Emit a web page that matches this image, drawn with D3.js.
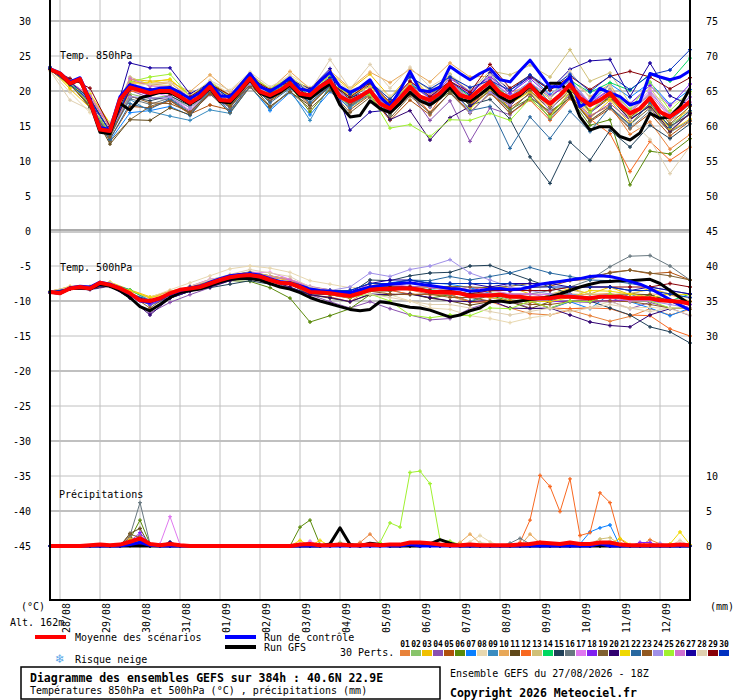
<!DOCTYPE html>
<html>
<head>
<meta charset="utf-8">
<script src="https://cdn.jsdelivr.net/npm/d3@7"></script>
<style>
  body { margin: 0; background: #fff; }
  svg { display: block; font-family: "DejaVu Sans Mono", monospace; }
</style>
</head>
<body>
<svg id="chart" width="740" height="700"></svg>
<script>
// time axis: GEFS run 27/08 18Z, 6h steps for mean/control/GFS, 12h for the members' temperatures
const steps6 = d3.range(0, 385, 6);
const steps12 = d3.range(0, 385, 12);
const dayLabels = ["28/08", "29/08", "30/08", "31/08", "01/09", "02/09", "03/09", "04/09",
  "05/09", "06/09", "07/09", "08/09", "09/09", "10/09", "11/09", "12/09"];
const leftTicks = [30, 25, 20, 15, 10, 5, 0, -5, -10, -15, -20, -25, -30, -35, -40, -45];
const rightTicks = [30, 25, 20, 15, 10, 5, 0, -5, -10, -15, -35, -40, -45];
const precipOffset = -45; // mm are drawn on the same scale, 0 mm at -45

const memberColors = ["#e8823a", "#88c46a", "#f0c000", "#8a50b0", "#b0500c", "#5a8a0a", "#0a80ff", "#e8d8b0",
  "#3a8cc0", "#e8a858", "#604818", "#f86820", "#d0c078", "#00d860", "#204058", "#687880", "#e078f0",
  "#8020f0", "#806030", "#300070", "#f0d800", "#2868a0", "#905820", "#a090e8", "#a0f030", "#d070d0",
  "#1800a0", "#e0d0b0", "#880008", "#0030c0"];

// ---- 850 hPa (°C) ----
const mean850 = [23.1,22.5,21.1,21.7,18.5,14.5,14.3,18.8,20.5,20.1,19.7,20.0,20.0,19.2,18.3,19.2,20.6,18.7,18.6,20.1,21.8,19.9,19.4,20.1,21.1,19.6,19.4,20.6,21.5,19.2,18.5,19.2,20.1,18.2,17.5,19.0,20.6,19.2,18.7,19.7,21.1,19.4,19.0,20.2,21.3,19.7,19.0,19.7,20.9,19.2,18.2,19.4,20.9,19.0,18.0,18.7,19.7,18.0,16.8,17.5,19.0,17.0,16.3,17.3,18.5];
const ctrl850 = [23.2,22.6,21.3,21.9,18.8,14.8,14.5,19.2,20.9,20.5,20.1,20.4,20.5,19.8,18.9,19.8,21.2,19.3,19.2,20.8,22.5,20.6,20.0,20.8,21.9,20.3,20.0,21.4,22.7,20.6,19.8,20.5,21.6,19.2,17.8,20.1,22.8,20.1,19.9,20.6,23.5,22.5,21.6,22.5,23.2,21.6,21.3,22.9,24.4,22.5,20.6,20.6,22.0,17.8,18.5,20.4,19.7,19.2,18.0,18.5,22.5,22.0,21.6,22.0,22.9];
const gfs850 = [23.1,22.4,21.0,21.6,18.3,14.1,13.9,18.2,17.3,19.0,19.4,19.8,19.8,19.0,18.1,19.0,20.4,18.5,18.3,19.9,21.6,19.7,19.1,19.8,20.9,19.3,18.9,20.0,21.0,18.0,16.3,16.5,18.6,17.5,16.9,18.2,19.8,18.6,18.0,19.0,20.5,18.8,18.5,19.5,20.6,19.2,18.4,19.4,20.8,19.5,21.1,21.1,19.8,16.3,14.4,14.9,14.9,13.5,13.0,14.0,16.8,16.1,16.3,17.8,20.4];
const members850 = [
  [23.2,21.0,19.2,14.6, 21.5,20.8,21.2,19.0, 21.3,19.4,22.4,20.3, 21.9,20.1,22.3,19.2, 21.0,18.3,21.4,19.5, 22.0,19.8,21.8,18.6, 20.7,17.6,19.8,16.5, 17.9,13.8,15.6,11.7,13.8],
  [23.0,20.8,18.0,13.9, 19.6,18.9,19.4,17.6, 19.8,17.9,21.0,18.6, 20.5,18.8,21.0,17.6, 19.5,16.8,20.1,17.9, 20.6,18.4,20.9,18.8, 21.2,18.1,21.3,18.2, 20.3,17.3,19.4,15.2,17.1],
  [23.3,20.3,17.6,15.2, 21.7,21.4,21.6,19.4, 21.0,19.2,22.1,20.0, 21.6,20.4,22.6,20.2, 22.4,19.1,22.3,19.3, 22.4,19.4,21.4,17.2, 19.8,16.8,19.1,16.1, 18.7,15.3,18.2,14.2,16.0],
  [23.1,21.2,18.3,14.0, 20.1,19.0,18.8,16.8, 19.5,17.6,21.2,18.9, 20.8,19.2,21.3,17.8, 19.6,16.9,19.8,15.8, 18.6,12.8,17.6,16.6, 19.2,16.9,19.4,16.3, 18.2,15.8,18.1,14.8,16.8],
  [23.0,21.1,17.9,13.2, 17.8,17.6,18.6,16.7, 18.0,17.3,20.7,18.5, 20.6,18.0,20.7,17.3, 19.4,15.8,18.7,16.6, 19.8,17.0,19.6,17.6, 19.6,16.6,19.7,15.6, 17.5,14.6,16.8,13.6,15.7],
  [23.1,20.9,18.2,14.3, 20.3,20.2,20.5,18.1, 21.1,18.2,21.7,18.9, 20.7,17.0,20.4,17.9, 19.9,16.6,19.7,17.8, 19.9,18.2,20.3,17.3, 19.0,17.1,19.0,15.1, 15.9,6.6,11.4,11.0,13.2],
  [23.4,21.3,17.6,12.9, 16.9,17.2,17.8,16.5, 19.8,16.9,20.7,17.2, 19.8,16.6,19.9,17.6, 20.1,17.2,21.0,19.1, 22.3,19.4,22.4,19.6, 22.2,19.5,21.6,18.3, 21.0,19.1,21.2,18.1,20.2],
  [22.9,19.8,16.9,15.4, 20.2,20.4,19.9,19.3, 21.4,19.6,22.3,20.4, 22.3,20.5,22.0,20.1, 21.2,19.3,21.1,18.8, 20.8,19.2,20.6,18.1, 19.9,17.3,20.7,18.4, 20.1,17.0,19.7,17.9,19.6],
  [23.2,21.0,17.8,13.7, 18.8,17.1,16.4,15.8, 17.3,16.8,20.6,17.4, 20.2,15.8,20.9,18.1, 20.3,17.4,21.2,19.0, 21.4,18.7,21.6,19.3, 21.3,18.4,21.0,16.9, 19.2,15.9,18.8,15.8,18.1],
  [23.3,21.2,19.4,15.1, 21.2,21.1,21.3,19.9, 22.3,19.9,22.4,20.2, 22.8,20.3,22.9,20.4, 22.7,21.2,23.1,21.3, 24.0,22.0,22.1,19.8, 20.8,18.9,21.8,19.2, 21.0,16.2,19.1,15.8,17.2],
  [23.1,21.0,17.7,12.4, 15.9,15.8,17.6,16.6, 19.7,17.7,21.1,17.8, 19.9,17.9,20.8,18.4, 20.2,17.1,20.0,17.7, 20.6,17.9,20.7,18.2, 20.4,18.0,21.2,17.1, 19.1,16.0,17.8,15.0,16.6],
  [23.2,21.4,19.0,14.1, 20.0,19.6,20.2,18.6, 20.7,18.4,21.6,19.2, 21.2,19.0,21.1,18.0, 19.8,17.1,20.2,16.9, 20.9,18.1,20.0,16.8, 18.7,15.8,18.9,16.0, 13.9,8.5,12.8,10.1,12.0],
  [23.0,21.3,19.2,15.3, 22.0,20.9,20.8,18.9, 20.9,19.1,22.1,19.8, 21.9,19.9,22.0,19.3, 21.1,18.9,22.1,20.1, 22.2,19.9,22.9,22.3, 23.7,22.0,25.9,21.4, 22.6,18.2,20.4,16.8,19.1],
  [23.1,21.1,18.9,14.2, 20.8,20.1,19.7,18.2, 20.6,18.8,21.8,19.6, 21.4,19.3,21.8,19.0, 20.8,18.2,20.9,19.4, 21.3,19.2,21.1,19.1, 21.2,19.1,21.5,19.8, 21.2,20.1,22.4,21.4,24.7],
  [23.2,20.9,18.1,14.0, 19.2,18.6,19.3,17.9, 20.2,18.0,21.3,18.8, 20.7,19.1,21.2,18.8, 20.9,17.9,20.4,18.4, 20.2,18.0,18.8,16.0, 10.6,6.8,12.7,10.1, 14.4,12.0,15.1,13.2,15.3],
  [23.0,21.1,18.3,13.8, 18.9,18.1,19.0,17.1, 19.9,17.6,21.0,18.7, 20.8,18.2,21.1,17.8, 19.6,16.6,19.6,16.8, 19.7,17.6,20.2,17.1, 19.8,16.0,19.2,15.7, 17.8,14.7,17.2,14.1,15.8],
  [23.1,21.2,19.3,15.0, 21.3,19.9,19.2,17.2, 20.3,18.3,21.4,19.3, 21.1,19.7,21.8,19.2, 20.7,18.1,21.3,19.4, 21.1,19.7,21.9,19.3, 21.2,19.2,21.4,18.4, 20.3,17.2,20.1,16.4,19.1],
  [23.0,21.0,18.1,14.4, 20.4,19.3,20.1,18.2, 20.1,18.3,21.3,19.1, 21.0,19.2,21.2,18.3, 20.0,17.8,20.9,19.0, 21.8,19.9,22.1,19.7, 21.8,19.3,21.0,18.2, 20.2,18.2,20.8,17.9,21.0],
  [23.2,21.0,17.7,12.8, 15.9,17.8,18.7,16.8, 19.6,16.9,20.6,17.7, 19.9,17.5,20.1,16.9, 19.1,16.1,19.3,16.9, 19.7,16.8,19.8,16.8, 18.9,16.3,19.1,15.8, 17.8,15.2,17.6,14.1,16.9],
  [23.1,21.1,18.4,14.2, 20.2,20.3,19.9,18.4, 20.4,18.9,21.4,19.2, 21.2,19.1,21.4,19.0, 20.1,15.9,17.2,13.0, 16.2,17.8,20.0,17.9, 20.6,17.8,20.6,16.9, 19.0,15.9,17.9,14.3,16.8],
  [23.3,20.6,19.6,15.4, 21.1,21.2,21.7,19.2, 20.8,18.1,21.2,19.3, 20.9,19.8,21.2,19.4, 20.6,18.3,21.0,17.9, 20.3,17.4,20.2,18.2, 19.9,17.9,20.3,17.3, 18.9,16.3,18.1,14.6,17.9],
  [23.1,21.2,17.9,13.1, 18.2,17.4,18.9,16.9, 20.0,17.1,21.1,18.3, 20.4,18.4,20.7,18.1, 19.8,17.0,19.9,18.1, 20.7,17.2,17.8,11.8, 16.3,13.2,17.1,14.2, 17.7,15.1,18.3,14.8,17.2],
  [23.0,20.9,17.9,13.4, 19.3,18.3,18.2,17.0, 19.7,17.8,20.9,18.8, 20.6,19.1,21.0,18.2, 19.9,16.9,20.1,18.2, 20.8,18.8,21.2,18.3, 20.1,17.3,20.2,17.0, 19.3,16.2,18.7,15.3,17.8],
  [23.1,21.1,18.2,14.2, 19.2,19.0,19.1,17.6, 20.2,18.4,21.0,19.0, 21.2,18.9,21.1,18.4, 19.9,17.2,20.3,17.7, 20.7,16.9,19.8,18.0, 21.0,17.1,20.8,16.8, 19.6,16.9,19.8,16.7,19.2],
  [23.2,21.1,18.1,14.0, 21.3,22.0,22.4,19.2, 21.3,19.2,22.2,20.3, 22.0,20.2,22.1,18.9, 19.5,14.7,15.2,13.5, 15.9,15.8,16.8,15.8, 18.9,16.3,19.9,16.9, 20.2,17.4,21.3,17.2,19.9],
  [23.0,21.3,19.3,14.8, 21.8,20.7,20.6,18.1, 20.6,18.7,21.6,19.2, 20.9,19.0,20.8,18.7, 20.3,17.3,20.6,18.3, 21.2,18.9,21.2,18.3, 20.8,18.2,20.6,17.8, 20.0,16.9,19.6,16.2,18.4],
  [23.4,21.3,18.9,14.2, 24.0,23.3,23.3,19.6, 21.1,18.9,21.9,19.9, 21.6,20.3,23.2,14.4, 17.0,17.3,20.4,18.5, 21.4,19.4,22.6,20.1, 22.0,20.2,23.1,24.3, 24.5,19.2,24.0,19.3,18.0],
  [22.9,18.7,17.3,15.5, 20.7,21.0,21.2,19.3, 21.5,20.1,22.7,20.6, 22.1,20.0,24.5,20.3, 23.8,20.4,23.4,20.6, 22.3,20.3,22.3,20.4, 22.3,19.1,22.9,18.9, 20.7,15.9,13.1,8.2,12.1],
  [23.1,21.8,20.4,14.9, 20.9,19.8,19.6,19.2, 21.0,19.4,21.9,20.2, 21.3,19.0,21.2,19.1, 21.2,18.4,21.4,19.2, 21.4,19.8,23.8,20.4, 22.2,20.1,22.1,20.2, 22.1,22.8,22.0,20.3,21.9],
  [23.2,20.9,18.7,14.3, 20.6,19.5,20.4,18.8, 20.9,19.0,21.7,19.7, 21.7,19.8,21.9,19.5, 21.3,18.8,22.0,20.3, 22.0,20.5,21.5,20.1, 22.3,20.3,22.4,19.9, 22.2,20.2,22.3,23.0,25.9]
];

// ---- 500 hPa (°C) ----
const mean500 = [-8.7,-8.9,-8.2,-8.0,-8.2,-7.4,-7.7,-8.2,-8.9,-9.9,-10.0,-9.6,-8.9,-8.4,-8.2,-8.0,-7.5,-7.0,-6.6,-6.4,-6.3,-6.5,-7.0,-7.4,-7.5,-8.0,-8.7,-8.8,-8.9,-9.1,-9.3,-8.9,-8.4,-8.3,-8.3,-8.2,-8.2,-8.4,-8.7,-8.7,-8.8,-8.9,-9.3,-9.2,-9.2,-9.1,-9.4,-9.4,-9.6,-9.6,-9.6,-9.4,-9.4,-9.5,-9.6,-9.4,-9.4,-9.4,-9.6,-9.6,-9.6,-9.9,-10.0,-10.1,-10.4];
const ctrl500 = [-8.7,-8.9,-8.1,-7.9,-8.0,-7.3,-7.6,-8.2,-9.0,-10.0,-10.2,-9.7,-9.0,-8.5,-8.2,-7.9,-7.3,-6.8,-6.4,-6.2,-6.1,-6.3,-6.8,-7.2,-7.4,-7.8,-8.3,-8.5,-8.6,-8.8,-8.8,-8.4,-8.0,-7.8,-7.6,-7.5,-7.4,-7.6,-7.8,-8.0,-8.2,-8.3,-8.6,-8.5,-8.3,-8.2,-8.4,-8.3,-8.0,-7.6,-7.4,-7.2,-7.0,-6.8,-6.5,-6.4,-6.5,-6.8,-7.2,-7.6,-8.2,-9.0,-9.8,-10.6,-11.3];
const gfs500 = [-8.7,-8.9,-8.2,-8.1,-8.3,-7.6,-7.9,-8.5,-9.5,-10.8,-11.4,-10.5,-9.5,-8.8,-8.5,-8.3,-7.8,-7.3,-6.9,-6.8,-6.8,-7.0,-7.5,-8.0,-8.3,-8.8,-9.5,-10.0,-10.4,-10.8,-11.2,-11.4,-11.2,-10.1,-10.3,-10.6,-10.9,-11.0,-11.3,-11.8,-12.3,-12.0,-11.4,-11.0,-10.1,-10.0,-10.2,-10.0,-9.8,-9.6,-9.4,-9.0,-8.5,-8.0,-7.6,-7.3,-7.2,-7.1,-7.1,-7.0,-6.9,-7.5,-8.5,-9.5,-10.5];
const members500 = [
  [-8.6,-8.0,-8.1,-7.4, -9.2,-10.3,-9.1,-8.2, -7.4,-6.9,-6.4,-7.1, -8.1,-9.2,-9.4,-10.1, -8.3,-8.2,-8.4,-9.1, -9.3,-10.2,-10.1,-11.0, -11.8,-12.0,-11.3,-12.1, -12.9,-12.2,-11.1,-12.0,-11.2],
  [-8.8,-8.1,-8.0,-7.6, -9.0,-10.6,-9.2,-7.9, -7.1,-6.4,-5.8,-6.4, -7.0,-8.6,-9.1,-9.2, -8.0,-8.1,-7.9,-8.6, -8.4,-9.1,-9.0,-9.8, -10.1,-9.2,-9.1,-9.9, -10.2,-9.8,-9.1,-10.0,-11.1],
  [-8.7,-7.9,-7.9,-7.3, -8.4,-9.4,-8.6,-8.0, -7.6,-6.4,-5.9,-6.6, -7.1,-8.1,-8.6,-9.0, -7.4,-8.1,-7.9,-8.5, -9.1,-9.0,-8.1,-8.0, -9.0,-9.1,-8.2,-9.0, -8.0,-9.1,-8.2,-9.0,-10.1],
  [-8.6,-8.3,-8.4,-7.9, -9.6,-11.7,-10.2,-9.1, -8.1,-7.1,-6.6,-7.2, -8.2,-9.1,-10.1,-11.0, -10.1,-11.1,-12.0,-12.7, -12.5,-11.1,-10.2,-10.0, -11.0,-11.1,-10.1,-10.2, -10.0,-11.1,-10.2,-11.0,-12.1],
  [-8.9,-8.3,-8.1,-7.6, -9.1,-10.1,-9.0,-7.9, -7.3,-6.3,-5.9,-6.4, -6.9,-8.4,-8.6,-8.8, -7.9,-7.8,-8.1,-7.9, -8.0,-8.4,-7.9,-8.6, -8.1,-7.9,-7.1,-6.9, -5.9,-5.6,-6.1,-5.9,-7.0],
  [-8.7,-8.2,-8.3,-7.8, -9.1,-10.1,-9.1,-8.1, -7.6,-7.1,-7.2,-8.1, -9.6,-13.0,-12.1,-11.1, -9.1,-9.2,-8.9,-9.6, -9.1,-10.1,-9.2,-10.0, -10.1,-9.1,-9.0,-10.1, -9.0,-10.0,-9.1,-10.1,-11.0],
  [-8.7,-8.1,-8.0,-7.5, -8.4,-9.9,-9.0,-8.0, -7.5,-6.6,-6.1,-7.0, -7.6,-8.0,-8.4,-9.0, -8.1,-7.4,-7.0,-7.4, -7.6,-8.1,-8.9,-9.1, -10.0,-11.0,-10.1,-11.1, -9.0,-10.1,-11.0,-12.1,-11.0],
  [-8.6,-8.0,-8.0,-7.4, -8.6,-9.5,-8.4,-7.4, -6.4,-5.4,-5.0,-5.3, -5.9,-7.1,-7.6,-8.1, -8.0,-9.1,-10.0,-11.0, -11.2,-12.1,-12.5,-13.1, -12.4,-12.0,-11.1,-10.9, -10.1,-11.0,-10.9,-11.1,-12.0],
  [-8.8,-8.3,-8.2,-7.8, -9.1,-10.6,-9.6,-8.6, -7.6,-6.6,-6.4,-7.1, -7.6,-8.6,-9.1,-9.6, -8.6,-8.4,-9.1,-9.0, -9.1,-10.0,-9.1,-8.9, -10.1,-10.0,-9.1,-10.0, -10.1,-9.0,-10.1,-10.0,-11.1],
  [-8.7,-8.2,-8.1,-7.7, -8.6,-9.6,-8.6,-8.1, -7.4,-6.4,-6.4,-7.0, -7.4,-8.4,-8.9,-8.9, -7.9,-8.0,-7.9,-8.0, -8.6,-9.0,-8.9,-9.5, -9.9,-9.1,-9.0,-9.1, -8.9,-9.5,-9.0,-9.1,-10.0],
  [-8.7,-8.3,-8.3,-7.8, -9.0,-10.1,-9.1,-8.1, -7.6,-6.6,-6.6,-7.0, -7.6,-9.1,-9.6,-10.1, -9.1,-9.1,-9.0,-9.6, -10.0,-10.6,-10.1,-10.1, -11.1,-10.1,-10.0,-10.0, -9.1,-9.0,-9.1,-10.0,-10.1],
  [-8.8,-8.2,-8.2,-7.7, -9.0,-10.2,-9.1,-8.1, -7.6,-7.0,-6.6,-7.1, -7.6,-8.6,-9.1,-9.6, -8.6,-8.5,-9.0,-9.1, -9.0,-10.1,-10.1,-10.0, -10.1,-11.0,-11.1,-11.0, -11.1,-12.0,-12.1,-14.0,-15.0],
  [-8.6,-8.1,-8.2,-7.6, -8.9,-9.9,-9.0,-7.9, -6.9,-6.4,-5.9,-6.4, -6.9,-7.9,-8.4,-8.9, -7.9,-8.0,-7.4,-7.9, -8.1,-8.4,-8.6,-9.0, -9.1,-9.0,-8.4,-9.0, -9.1,-8.9,-8.4,-9.0,-9.6],
  [-8.7,-8.2,-8.1,-7.6, -8.4,-10.0,-9.0,-8.0, -7.5,-6.6,-6.5,-7.0, -7.5,-8.5,-9.0,-9.0, -8.0,-8.1,-8.0,-8.4, -8.6,-9.0,-9.1,-9.0, -9.5,-9.4,-9.0,-9.5, -9.1,-9.6,-10.0,-10.0,-9.0],
  [-8.8,-8.3,-8.3,-7.8, -9.1,-10.1,-9.6,-8.6, -8.1,-7.6,-7.1,-7.6, -8.1,-9.0,-9.1,-8.9, -7.0,-7.1,-6.4,-6.0, -5.9,-5.0,-4.9,-6.0, -7.0,-8.0,-9.0,-10.0, -11.0,-12.0,-13.7,-14.4,-16.0],
  [-8.7,-8.2,-8.3,-7.8, -9.0,-10.1,-9.1,-8.5, -7.5,-7.1,-6.6,-7.1, -7.4,-8.5,-9.0,-9.1, -8.1,-7.9,-8.1,-8.0, -8.5,-9.1,-8.9,-9.0, -9.0,-8.5,-8.0,-7.0, -5.1,-3.6,-3.5,-5.0,-7.0],
  [-8.6,-8.1,-8.1,-7.6, -8.9,-9.9,-8.9,-7.9, -6.9,-6.5,-5.9,-5.9, -6.9,-7.9,-8.5,-9.1, -7.5,-7.6,-8.0,-8.1, -8.5,-8.0,-8.4,-9.0, -9.0,-9.1,-9.5,-10.0, -10.1,-10.0,-9.9,-10.1,-11.0],
  [-8.8,-8.3,-8.2,-7.8, -9.1,-10.5,-9.5,-8.6, -7.5,-7.0,-6.6,-7.0, -7.5,-8.6,-9.0,-9.1, -8.1,-8.0,-7.9,-8.1, -8.4,-9.0,-9.5,-10.0, -9.9,-10.1,-10.0,-10.1, -9.9,-10.0,-10.1,-10.0,-10.5],
  [-8.7,-8.2,-8.2,-7.7, -9.0,-10.0,-9.0,-8.1, -7.5,-6.5,-6.0,-7.0, -7.5,-8.5,-9.0,-9.5, -8.5,-8.6,-8.0,-8.1, -7.9,-8.0,-8.1,-7.9, -7.5,-7.6,-7.0,-6.5, -6.0,-5.6,-6.0,-6.4,-7.0],
  [-8.7,-8.3,-8.3,-7.8, -9.6,-12.0,-9.6,-8.6, -8.0,-7.1,-6.6,-7.1, -8.0,-9.1,-9.5,-10.1, -9.0,-9.1,-9.0,-9.5, -10.0,-10.1,-9.9,-11.0, -11.1,-11.0,-12.0,-13.0, -13.5,-13.7,-12.0,-11.1,-11.0],
  [-8.6,-8.1,-8.1,-7.6, -8.5,-9.5,-9.0,-8.1, -7.5,-6.4,-6.0,-6.5, -7.0,-8.5,-9.0,-9.5, -8.5,-8.0,-8.1,-8.0, -8.5,-9.0,-9.5,-10.0, -10.0,-10.1,-9.5,-8.5, -8.6,-9.0,-9.5,-9.0,-9.1],
  [-8.7,-8.2,-8.1,-7.7, -9.0,-10.0,-9.0,-8.0, -7.5,-6.5,-6.4,-7.0, -7.5,-8.0,-8.5,-9.0, -8.0,-7.5,-7.0,-7.1, -6.5,-7.0,-6.5,-6.0, -5.2,-6.0,-6.5,-7.0, -7.1,-7.5,-8.0,-8.5,-9.0],
  [-8.8,-8.3,-8.2,-7.8, -9.1,-11.0,-9.1,-8.1, -7.6,-6.6,-6.0,-7.0, -7.6,-8.5,-9.1,-9.5, -8.6,-9.0,-9.1,-9.0, -9.5,-9.5,-10.0,-10.1, -10.5,-10.5,-10.1,-10.0, -10.0,-10.1,-10.5,-11.0,-11.1],
  [-8.7,-8.2,-8.2,-7.7, -9.0,-10.0,-9.0,-8.0, -7.4,-6.4,-6.0,-7.0, -7.4,-8.4,-8.5,-8.0, -6.0,-6.5,-5.5,-5.0, -4.1,-6.0,-7.0,-8.0, -8.5,-9.0,-9.0,-9.5, -9.0,-10.0,-10.0,-10.5,-11.0],
  [-8.6,-8.2,-8.2,-7.7, -9.0,-10.0,-9.0,-8.0, -7.5,-6.5,-6.5,-7.0, -7.6,-8.6,-9.1,-9.5, -9.0,-10.0,-12.0,-12.4, -12.0,-12.1,-11.0,-11.1, -10.0,-11.0,-10.0,-10.1, -9.0,-10.0,-10.0,-11.0,-11.0],
  [-8.7,-8.1,-8.2,-7.6, -8.9,-10.0,-8.9,-8.0, -7.4,-6.5,-6.0,-6.5, -7.0,-8.0,-8.4,-9.0, -7.5,-7.5,-8.0,-8.0, -8.4,-8.5,-9.0,-9.1, -9.0,-9.5,-9.4,-9.5, -9.5,-10.0,-9.9,-10.0,-11.0],
  [-8.7,-8.2,-8.2,-7.7, -9.0,-10.0,-9.0,-8.0, -7.5,-6.5,-6.5,-7.0, -7.5,-8.5,-8.5,-8.5, -7.5,-7.0,-7.0,-7.5, -7.5,-7.5,-8.0,-7.5, -7.5,-7.5,-8.0,-8.0, -8.0,-8.5,-8.0,-8.5,-9.0],
  [-8.6,-8.1,-8.1,-7.6, -8.9,-10.0,-9.0,-7.9, -7.0,-6.2,-5.5,-6.0, -6.5,-8.0,-8.5,-9.0, -9.0,-9.5,-10.0,-10.5, -10.5,-11.0,-11.5,-12.0, -11.5,-11.0,-11.5,-11.0, -10.5,-11.0,-11.5,-11.0,-11.0],
  [-8.7,-8.3,-8.2,-7.7, -9.0,-10.1,-9.0,-8.1, -7.5,-6.6,-6.1,-7.0, -7.5,-8.5,-9.0,-9.0, -8.0,-8.0,-8.0,-8.5, -8.5,-9.0,-8.5,-8.5, -8.5,-8.5,-8.0,-8.0, -8.0,-8.0,-8.0,-7.5,-8.0],
  [-8.7,-8.2,-8.1,-7.7, -9.0,-9.9,-9.0,-8.0, -7.5,-6.5,-6.0,-7.0, -7.5,-8.5,-8.5,-8.5, -7.5,-7.5,-7.0,-7.5, -7.5,-7.5,-7.5,-7.5, -8.0,-8.0,-8.0,-8.0, -8.0,-8.5,-8.5,-9.0,-9.5]
];

// ---- precipitation (mm per 6h) ----
const meanPrec = [0,0,0,0,0.1, 0.2,0.1,0.2,0.6,1.1, 0.3,0.1,0.3,0.1,0, 0,0,0,0,0, 0,0,0,0,0, 0.2,0.3,0.1,0.1,0.2, 0.1,0.1,0.2,0.1,0.2, 0.2,0.5,0.5,0.4,0.2, 0.1,0.1,0.2,0.1,0.1, 0.1,0.1,0.2,0.3,0.5, 0.4,0.3,0.5,0.3,0.3, 0.5,0.5,0.2,0.1,0.1, 0.1,0.1,0.1,0.2,0.1];
const ctrlPrec = [0,0,0,0,0, 0,0,0,0.2,0.5, 0.1,0,0,0,0, 0,0,0,0,0, 0,0,0,0,0, 0,0,0,0,0, 0,0,0,0,0, 0,0.2,0,0,0, 0,0,0,0,0, 0,0,0,0,0, 0,0,0,0,0, 0.3,0,0,0,0, 0,0,0,0,0];
const gfsPrec = [0,0,0,0,0, 0,0,0,0,0, 0,0,0,0,0, 0,0,0,0,0, 0,0,0,0,0, 0,0,0,0.3,2.6, 0.2,0,0.4,0.2,0, 0,0,0,0.3,0.9, 0.4,0,0,0,0, 0,0,0,0,0, 0,0,0,0,0, 0,0,0,0,0, 0,0,0,0,0];
const membersPrec = [
  [0,0,0,0,0, 0,0,0,0.3,0.5, 0,0,0,0,0, 0,0,0,0,0, 0,0,0,0,0, 0,0,0,0,0, 0,0.5,1.7,0.2,0, 0,0,0,0,0, 0,0,0,0,0, 0,0,0,0,0, 0,0,0,0,0, 0,0,0,0,0, 0.9,0.3,0,0,0],
  [0,0,0,0,0, 0,0,0,0.4,0.8, 0.2,0,0,0,0, 0,0,0,0,0, 0,0,0,0,0, 0,0,0,0,0.5, 0,0,0,0,0, 0,0,0,0,0, 0,0,0,0,0, 0,0,0,0,0, 0,0,0,0,0, 0,0,0,0,0, 0,0,0,0,0],
  [0,0,0,0,0, 0,0,0,0.6,0.9, 0,0,0,0,0, 0,0,0,0,0, 0,0,0,0,0, 0,0,0,0,0, 0,0,0,0,0, 0,0,0,0,0, 0,0,0,0,0, 0,0,0,0,0, 0,0,0,0,0, 0,0,0.4,0,0, 0,0,0,0,0],
  [0,0,0,0,0, 0,0,0,0.5,1.5, 0.2,0,0,0,0, 0,0,0,0,0, 0,0,0,0,0, 0,0,0,0,0, 0,0,0,0,0, 0,0,0,0,0, 0,0,0,0,0, 0,0,0,0,0, 0,0,0,0,0, 0,0,0,0,0, 0,0,0,0,0],
  [0,0,0,0,0, 0,0,0,1.2,0.9, 0,0,0,0,0, 0,0,0,0,0, 0,0,0,0,0, 0,0,0,0,0, 0,0,0,0,0, 0,0,0,0,0, 0,0,0,0,0, 0,0,0,0.3,0.5, 0,0,0,0,0, 0,0,0,0,0, 0,0,0,0,0],
  [0,0,0,0,0, 0,0,0,1.0,3.7, 0.3,0,0,0,0, 0,0,0,0,0, 0,0,0,0,0, 2.7,3.7,0.2,0,0, 0,0,0,0,0, 0,0,0,0,0, 0,0,0,0,0, 0,0,0,0,0, 0,0,0,0,0, 0,0,0,0,0, 0,0,0,0,0],
  [0,0,0,0,0, 0,0,0,0.2,0.6, 0,0,0,0,0, 0,0,0,0,0, 0,0,0,0,0, 0,0,0,0,0, 0,0,0,0,0, 0,0,0,0,0, 0,0,0,0,0, 0,0,0,0,0, 0,0,0,0.3,2.0, 2.6,3.0,0,0,0, 0,0,0,0,0],
  [0,0,0,0,0, 0,0,0,0,0, 0,0,0,0,0, 0,0,0,0,0, 0,0,0,0,0, 0,0,0,0,0, 0,0,0,0,0, 0,0,0,0,0, 0,0,0.6,1.5,0.6, 0,0,0,0,0, 0,0,0,0,0, 0.5,0.7,0.3,0,0, 0,0,0,0,0],
  [0,0,0,0,0, 0,0,0,0.3,0.4, 0,0,0,0,0, 0,0,0,0,0, 0,0,0,0,0, 0,0,0,0,0, 0,0,0,0,0, 0,0,0,0,0, 0,0,0,0,0, 0,0,0,0,0, 0,0,0,0,0, 0,0,0,0,0, 0,0,0,0,0],
  [0,0,0,0,0, 0,0,0,1.0,0.6, 0,0,0,0,0, 0,0,0,0,0, 0,0,0,0,0, 0,0,0,0,0, 0,0,0,0,0, 0,0,0,0,0, 0,0.5,1.7,0.4,0, 0,0,0,1.7,0.4, 0,0,0,0,0, 0,0,0,0,0, 0,0,0,0,0],
  [0,0,0,0,0, 0,0,0,1.8,2.5, 0,0,0,0,0, 0,0,0,0,0, 0,0,0,0,0, 0,0,0,0,0, 0,0,0,0,0, 0,0,0,0,0, 0,0,0,0,0, 0,0,0,0,0, 0,0,0,0,0, 0,0,0,0,0, 0,0,0,0,0],
  [0,0,0,0,0, 0,0,0,0,0, 0,0,0,0,0, 0,0,0,0,0, 0,0,0,0,0, 0,0,0,0,0, 0,0,0,0,0, 0,0,0,0,0, 0,0,0,0,0, 0,0,0.5,3.7,10.1, 8.5,4.9,9.6,1.5,1.9, 7.6,6.2,1.0,0,0, 0,0,0,0,0],
  [0,0,0,0,0, 0,0,0,0.4,0.3, 0,0,0,0,0, 0,0,0,0,0, 0,0,0,0,0, 0,0,0,0,0, 0,0,0,0,0, 0,0,0,0,0, 0,0,0,0,0, 0,0,0,0,0, 0,0,0,0,0.3, 1.0,1.2,0.2,0,0, 0,0,0,0,0],
  [0,0,0,0,0, 0,0,0,0.5,0.8, 0,0,0.4,0,0, 0,0,0,0,0, 0,0,0,0,0, 0,0,0,0,0, 0,0,0,0,0, 0,0,0,0,0, 0,0,0,0,0, 0,0,0,0,0, 0,0,0,0,0, 0,0,0,0,0, 0,0,0,0,0],
  [0,0,0,0,0, 0,0,0,0.3,0.5, 0,0,0,0,0, 0,0,0,0,0, 0,0,0,0,0, 0,0,0,0,0, 0,0,0,0,0, 0,0,0,0,0, 0,0,0,0,0, 0,0,0,0,0, 0,0,0,0,0, 0,0,0,0,0, 0,0,0,0,0],
  [0,0,0,0,0, 0,0,0,1.5,6.2, 0.3,0,0,0,0, 0,0,0,0,0, 0,0,0,0,0, 0,0,0,0,0, 0.2,0,0,0,0, 0,0,0,0,0, 0,0,0,0,0, 0,0.4,1.1,0.3,0, 0,0,0,0,0, 0,0,0,0,0, 0,0,0,0,0],
  [0,0,0,0,0, 0,0,0,0,0, 0,0.3,4.2,0.2,0, 0,0,0,0,0, 0,0,0,0,0, 0,0.7,0,0,0, 0,0,0,0,0, 0,0,0,0,0, 0,0,0,0,0, 0,0,0,0,0, 0,0,0,0,0, 0,0,0,0,0, 0,0,0.3,0,0],
  [0,0,0,0,0, 0,0,0,0.6,1.9, 0.2,0,0,0,0, 0,0,0,0,0, 0,0,0,0,0, 0,0,0,0.3,0, 0,0,0,0,0, 0,0,0,0,0, 0,0,0,0,0, 0,0,0,0,0, 0,0,0,0,0, 0,0,0,0,0.5, 0.5,0,0,0,0],
  [0,0,0,0,0, 0,0,0,1.7,1.2, 0,0,0,0,0, 0,0,0,0,0, 0,0,0,0,0, 0,0,0,0,0, 0,0,0,0,0, 0,0,0,0,0, 0,0,0,0,0, 0,0,0,0,0, 0,0,0,0,0, 0,0,0,0,0, 0,0,0,0,0],
  [0,0,0,0,0, 0,0,0,0,0, 0,0,0.6,0,0, 0,0,0,0,0, 0,0,0,0,0, 0,0,0,0,0, 0,0,0,0,0, 0,0,0,0,0, 0,0,0,0,0, 0,0,0,0,0, 0,0,0,0,0, 0,0,0,0,0, 0,0,0,0,0],
  [0,0,0,0,0, 0,0,0,0.8,1.2, 0,0,0,0,0, 0,0,0,0,0, 0,0,0,0,0, 0.8,0,0.8,0,0, 0,0,0,0,0, 0,0,0,0,0, 0,0,0,0,0, 0,0,0,0,0, 0,0,0,0,0, 0,0.3,1.1,0.2,0, 0,0,0.3,2.0,0.2],
  [0,0,0,0,0, 0,0,0,0.2,0.4, 0,0,0,0,0, 0,0,0,0,0, 0,0,0,0,0, 0,0,0,0,0, 0,0,0,0,0, 0,0,0,0,0, 0,0,0,0,0, 0,0,0,0,0, 0,0,0,0,0, 0,0,0,0,0, 0,0,0,0,0],
  [0,0,0,0,0, 0,0,0,0.7,0.5, 0,0,0,0,0, 0,0,0,0,0, 0,0,0,0,0, 0,0,0,0,0, 0,0,0,0,0, 0,0,0,0,0, 0,0,0,0,0, 0,0,0,0,0, 0,0,0,0,0, 0,0,0,0,0, 0,0,0,0,0],
  [0,0,0,0,0, 0,0,0,0,0, 0,0,0,0,0, 0,0,0,0,0, 0,0,0,0,0, 0,0.3,0,0.3,0, 0,0,0,0,0, 0,0,0,0,0, 0,0,0,0,0, 0,0,0,0,0, 0,0,0,0,0, 0,0,0,0,0, 0,0.4,0,0,0],
  [0,0,0,0,0, 0,0,0,0,0, 0,0,0,0,0, 0,0,0,0,0, 0,0,0,0,0, 0,0,0,0,0, 0,0,0,0.5,3.3, 2.7,10.5,10.7,8.9,0.9, 0.7,0.2,0,0,0, 0,0,0,0,0, 0,0,0,0,0, 0,0,0,0,0, 0,0,0,0,0],
  [0,0,0,0,0, 0,0,0,0.4,0.6, 0,0,0,0,0, 0,0,0,0,0, 0,0,0,0,0, 0,0,0,0,0, 0,0,0,0,0, 0,0,0,0,0, 0,0,0,0,0, 0,0,0,0,0, 0,0,0,0,0, 0,0,0,0,0, 0,0,0,0,0],
  [0,0,0,0,0, 0,0,0,0.3,0.2, 0,0,0,0,0, 0,0,0,0,0, 0,0,0,0,0, 0,0,0,0,0, 0,0,0,0,0, 0,0,0,0,0, 0,0,0,0,0, 0,0,0,0,0, 0,0,0,0,0, 0,0,0,0,0, 0,0,0,0,0],
  [0,0,0,0,0, 0,0,0,0,0, 0,0,0,0,0, 0,0,0,0,0, 0,0,0,0,0, 0,0,0,0,0, 0,0,0,0,0, 0,0,0,0,0, 0,0,0,0.5,0.3, 0,0,0,0,0, 0,0,0,0,0, 0,0,0,0,0, 0,0,0,0.8,0],
  [0,0,0,0,0, 0,0,0,0.2,0.3, 0,0,0,0,0, 0,0,0,0,0, 0,0,0,0,0, 0,0,0,0,0, 0,0,0,0,0, 0,0,0,0,0, 0,0,0,0,0, 0,0,0,0,0, 0,0,0,0,0, 0,0,0,0,0, 0,0,0,0,0],
  [0,0,0,0,0, 0,0,0,0.3,0.6, 0,0,0,0,0, 0,0,0,0,0, 0,0,0,0,0, 0,0,0,0,0, 0,0,0,0,0, 0,0,0,0,0, 0,0,0,0,0, 0,0,0,0,0, 0,0,0,0,0, 0,0,0,0,0, 0,0,0,0,0]
];

const svg = d3.select("#chart");
const plotLeft = 50, plotRight = 690, plotBottom = 600;

const x = d3.scaleLinear().domain([0, 384]).range([plotLeft, plotRight]);
const y = d3.scaleLinear().domain([0, 30]).range([231, 21]);
const dayHours = dayLabels.map((d, i) => 6 + 24 * i);

// grid
const grid = svg.append("g");
grid.selectAll("line.h")
  .data(leftTicks.filter(d => d !== 0))
  .join("line")
  .attr("x1", plotLeft).attr("x2", plotRight)
  .attr("y1", d => y(d)).attr("y2", d => y(d))
  .attr("stroke", "#c0c0c0")
  .attr("stroke-width", d => d % 10 === 0 ? 2 : 1);

grid.selectAll("line.v")
  .data(dayHours)
  .join("line")
  .attr("x1", d => x(d)).attr("x2", d => x(d))
  .attr("y1", 0).attr("y2", plotBottom)
  .attr("stroke", "#c0c0c0").attr("stroke-width", 1);

// panel separator at 0
grid.append("line")
  .attr("x1", plotLeft).attr("x2", plotRight)
  .attr("y1", y(0) - 1).attr("y2", y(0) - 1)
  .attr("stroke", "#909090").attr("stroke-width", 1.5);
grid.append("line")
  .attr("x1", plotLeft).attr("x2", plotRight)
  .attr("y1", y(0) + 1).attr("y2", y(0) + 1)
  .attr("stroke", "#b8b8b8").attr("stroke-width", 1.5);

const marker = d3.symbol().type(d3.symbolCross).size(8);

function drawSeries(g, values, steps, offset, color, width, withMarkers) {
  const line = d3.line()
    .x((d, i) => x(steps[i]))
    .y(d => y(d + offset));
  g.append("path")
    .datum(values)
    .attr("fill", "none")
    .attr("stroke", color)
    .attr("stroke-width", width)
    .attr("stroke-linejoin", width > 2 ? "round" : "miter")
    .attr("d", line);
  if (withMarkers) {
    g.append("g").selectAll("path")
      .data(values)
      .join("path")
      .attr("d", marker)
      .attr("transform", (d, i) => `translate(${x(steps[i])},${y(d + offset)})`)
      .attr("fill", color);
  }
}

const series = svg.append("g");
members850.forEach((m, k) => drawSeries(series, m, steps12, 0, memberColors[k], 1, true));
members500.forEach((m, k) => drawSeries(series, m, steps12, 0, memberColors[k], 1, true));
membersPrec.forEach((m, k) => drawSeries(series, m, steps6, precipOffset, memberColors[k], 1, true));

[[gfs850, gfs500, gfsPrec, "#000000", 3],
 [ctrl850, ctrl500, ctrlPrec, "#0000ff", 3],
 [mean850, mean500, meanPrec, "#ff0000", 4]].forEach(([a, b, c, color, w]) => {
  drawSeries(series, a, steps6, 0, color, w, false);
  drawSeries(series, b, steps6, 0, color, w, false);
  drawSeries(series, c, steps6, precipOffset, color, w, false);
});

// frame
const frame = svg.append("g").attr("stroke", "#000").attr("stroke-width", 2);
frame.append("line").attr("x1", plotLeft).attr("x2", plotLeft).attr("y1", 0).attr("y2", plotBottom);
frame.append("line").attr("x1", plotRight).attr("x2", plotRight).attr("y1", 0).attr("y2", plotBottom);
frame.append("line").attr("x1", plotLeft - 1).attr("x2", plotRight + 1).attr("y1", plotBottom).attr("y2", plotBottom);

// axis labels
const labels = svg.append("g").attr("font-size", 10).attr("fill", "#000");
labels.selectAll("text.left")
  .data(leftTicks)
  .join("text")
  .attr("x", 31).attr("y", d => y(d)).attr("dy", "0.35em")
  .attr("text-anchor", "end")
  .text(d => d);
labels.selectAll("text.right")
  .data(rightTicks)
  .join("text")
  .attr("x", 706).attr("y", d => y(d)).attr("dy", "0.35em")
  .text(d => d - precipOffset);

labels.append("text").attr("x", 60).attr("y", 59).text("Temp. 850hPa");
labels.append("text").attr("x", 60).attr("y", 271).text("Temp. 500hPa");
labels.append("text").attr("x", 59).attr("y", 498).text("Précipitations");

labels.append("text").attr("x", 21).attr("y", 610).text("(°C)");
labels.append("text").attr("x", 710).attr("y", 610).text("(mm)");
labels.append("text").attr("x", 10).attr("y", 626).text("Alt. 162m");

labels.selectAll("text.day")
  .data(dayLabels)
  .join("text")
  .attr("transform", (d, i) => `translate(${x(dayHours[i]) + 10},603) rotate(-90)`)
  .attr("text-anchor", "end")
  .text(d => d);

// legend
const legend = svg.append("g").attr("font-size", 10);
legend.append("rect").attr("x", 35).attr("y", 635).attr("width", 31).attr("height", 4).attr("fill", "#ff0000");
legend.append("text").attr("x", 75).attr("y", 641).text("Moyenne des scénarios");
legend.append("rect").attr("x", 225).attr("y", 635).attr("width", 31).attr("height", 4).attr("fill", "#0000ff");
legend.append("text").attr("x", 264).attr("y", 641).text("Run de contrôle");
legend.append("rect").attr("x", 225).attr("y", 645).attr("width", 31).attr("height", 4).attr("fill", "#000");
legend.append("text").attr("x", 264).attr("y", 651).text("Run GFS");
legend.append("text").attr("x", 60).attr("y", 663).attr("text-anchor", "middle")
  .attr("font-family", "DejaVu Sans").attr("font-size", 12).attr("fill", "#5aa8e8").text("❄");
legend.append("text").attr("x", 75).attr("y", 663).text("Risque neige");
legend.append("text").attr("x", 340).attr("y", 656).text("30 Perts.");

legend.selectAll("rect.swatch")
  .data(memberColors)
  .join("rect")
  .attr("x", (d, i) => 400 + 11 * i).attr("y", 650)
  .attr("width", 10).attr("height", 6)
  .attr("fill", d => d);
legend.selectAll("text.num")
  .data(memberColors)
  .join("text")
  .attr("x", (d, i) => 405 + 11 * i).attr("y", 647)
  .attr("text-anchor", "middle")
  .attr("font-size", 8).attr("font-weight", "bold")
  .text((d, i) => d3.format("02d")(i + 1));

// title box
svg.append("rect")
  .attr("x", 21).attr("y", 667).attr("width", 419).attr("height", 32)
  .attr("fill", "none").attr("stroke", "#000").attr("stroke-width", 1.5);
svg.append("text").attr("x", 30).attr("y", 682)
  .attr("font-size", 11.5).attr("font-weight", "bold")
  .text("Diagramme des ensembles GEFS sur 384h : 40.6N 22.9E");
svg.append("text").attr("x", 30).attr("y", 694).attr("font-size", 10)
  .text("Températures 850hPa et 500hPa (°C) , précipitations (mm)");
svg.append("text").attr("x", 450).attr("y", 677).attr("font-size", 10)
  .text("Ensemble GEFS du 27/08/2026 - 18Z");
svg.append("text").attr("x", 450).attr("y", 697)
  .attr("font-size", 11.5).attr("font-weight", "bold")
  .text("Copyright 2026 Meteociel.fr");
</script>
</body>
</html>
